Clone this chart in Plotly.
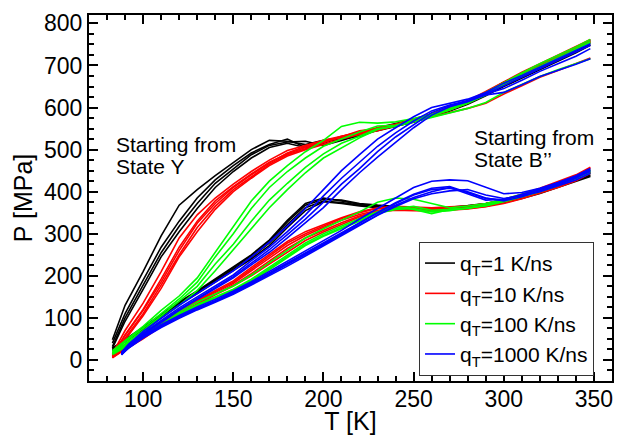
import plotly.graph_objects as go

# Temperature grids [K]
T_GRID = [83, 90, 100, 110, 120, 130, 140, 150, 160, 170, 180, 190, 200, 210,
          220, 230, 240, 250, 260, 270, 280, 290, 300, 310, 320, 330, 340, 348]
T_GRID_FAST = [88, 92, 100, 110, 120, 130, 140, 150, 160, 170, 180, 190, 200, 210,
               220, 230, 240, 250, 260, 270, 280, 290, 300, 310, 320, 330, 340, 348]

# ---- Starting from State Y (upper curves), P [MPa] ----
BLACK_Y = [
    [48, 130, 210, 295, 368, 405, 438, 468, 500, 522, 520, 512, 522, 528, 538, 550, 560, 568, 580, 596, 612, 632, 655, 676, 698, 718, 738, 754],
    [40, 110, 190, 268, 330, 385, 428, 462, 492, 512, 525, 505, 515, 530, 540, 545, 555, 566, 578, 592, 608, 628, 652, 672, 694, 714, 734, 750],
    [32, 100, 178, 255, 318, 372, 420, 455, 488, 510, 518, 520, 510, 522, 535, 552, 562, 572, 585, 600, 615, 636, 660, 680, 700, 722, 742, 760],
    [28, 92, 168, 245, 305, 360, 410, 448, 480, 505, 515, 505, 520, 525, 532, 546, 556, 565, 579, 593, 610, 630, 650, 670, 690, 710, 730, 748],
]
RED_Y = [
    [15, 70, 135, 210, 290, 345, 385, 418, 448, 475, 498, 510, 522, 532, 542, 552, 560, 572, 585, 600, 616, 638, 662, 684, 704, 724, 745, 762],
    [10, 60, 120, 192, 268, 330, 378, 412, 442, 470, 490, 505, 520, 528, 538, 548, 557, 568, 580, 594, 610, 632, 656, 676, 696, 718, 738, 756],
    [8, 52, 110, 178, 250, 315, 365, 405, 435, 465, 488, 502, 516, 530, 545, 550, 560, 570, 578, 588, 598, 610, 632, 652, 672, 688, 704, 718],
    [5, 48, 105, 170, 245, 305, 358, 400, 432, 462, 485, 500, 512, 525, 536, 545, 556, 567, 582, 598, 614, 636, 660, 680, 702, 722, 742, 758],
    [12, 58, 118, 185, 260, 325, 372, 410, 440, 468, 492, 508, 518, 532, 540, 549, 559, 571, 584, 597, 612, 634, 658, 678, 699, 720, 740, 757],
]
GREEN_Y = [
    [22, 45, 80, 118, 152, 195, 255, 318, 378, 425, 462, 495, 522, 555, 565, 563, 566, 574, 584, 598, 614, 636, 660, 682, 704, 724, 744, 762],
    [20, 42, 75, 110, 145, 185, 245, 300, 360, 410, 448, 480, 508, 525, 542, 556, 558, 570, 582, 595, 610, 630, 655, 675, 695, 716, 737, 754],
    [18, 38, 70, 105, 138, 175, 228, 275, 330, 380, 420, 458, 490, 515, 532, 550, 555, 566, 576, 588, 598, 612, 636, 655, 674, 690, 705, 716],
    [16, 35, 65, 100, 130, 165, 212, 262, 312, 362, 405, 445, 480, 505, 528, 548, 557, 569, 580, 594, 611, 633, 658, 678, 698, 718, 739, 757],
]
BLUE_Y = [
    [18, 38, 68, 100, 130, 158, 185, 212, 245, 280, 318, 360, 405, 450, 488, 525, 552, 578, 600, 610, 620, 636, 658, 676, 696, 716, 736, 752],
    [15, 34, 64, 94, 124, 150, 176, 202, 236, 268, 305, 345, 390, 432, 470, 508, 540, 568, 592, 606, 617, 633, 652, 672, 692, 712, 732, 748],
    [13, 32, 62, 92, 120, 146, 172, 198, 230, 262, 298, 335, 375, 418, 455, 495, 530, 560, 588, 604, 615, 632, 645, 665, 686, 704, 722, 740],
    [12, 30, 60, 90, 118, 144, 170, 195, 226, 256, 290, 325, 362, 405, 445, 482, 518, 552, 582, 602, 614, 630, 636, 654, 674, 688, 703, 716],
]

# ---- Starting from State B'' (lower curves), P [MPa] ----
BLACK_B = [
    [28, 48, 78, 108, 138, 164, 192, 220, 250, 285, 332, 372, 385, 378, 370, 366, 363, 361, 360, 362, 366, 371, 378, 388, 400, 414, 428, 440],
    [24, 44, 74, 104, 134, 160, 188, 214, 244, 278, 322, 362, 378, 374, 368, 364, 360, 358, 358, 360, 364, 368, 376, 386, 398, 412, 428, 438],
    [22, 42, 72, 102, 132, 158, 185, 212, 240, 272, 315, 355, 376, 372, 366, 362, 358, 357, 356, 358, 362, 366, 374, 384, 396, 410, 425, 436],
    [26, 46, 76, 106, 136, 162, 190, 218, 248, 282, 328, 368, 382, 380, 372, 368, 365, 362, 361, 363, 367, 372, 380, 390, 402, 417, 432, 445],
]
RED_B = [
    [10, 30, 58, 88, 116, 142, 165, 188, 220, 252, 282, 305, 322, 338, 352, 362, 365, 364, 362, 364, 366, 372, 382, 394, 408, 424, 440, 458],
    [8, 28, 55, 85, 112, 138, 160, 182, 212, 242, 272, 296, 315, 332, 346, 356, 360, 360, 358, 360, 362, 368, 378, 390, 403, 418, 435, 452],
    [6, 26, 52, 82, 108, 134, 156, 178, 205, 235, 265, 290, 308, 326, 342, 354, 358, 356, 355, 357, 360, 365, 375, 386, 399, 414, 430, 447],
    [5, 25, 50, 80, 106, 132, 155, 176, 200, 228, 258, 284, 304, 322, 340, 352, 356, 355, 354, 356, 359, 364, 372, 383, 396, 410, 426, 444],
    [9, 29, 56, 86, 114, 140, 162, 185, 216, 248, 278, 300, 318, 336, 350, 360, 364, 362, 360, 363, 365, 370, 380, 392, 406, 420, 438, 456],
]
GREEN_B = [
    [17, 35, 62, 90, 115, 138, 157, 176, 202, 232, 262, 290, 312, 332, 352, 375, 385, 382, 372, 362, 366, 372, 382, 394, 406, 420, 436, 452],
    [15, 32, 58, 85, 110, 132, 150, 168, 192, 220, 250, 278, 300, 318, 336, 352, 365, 358, 348, 358, 360, 368, 378, 390, 402, 416, 432, 448],
    [13, 30, 55, 82, 106, 128, 146, 164, 186, 214, 244, 272, 294, 312, 330, 348, 358, 360, 352, 355, 362, 366, 376, 388, 400, 414, 430, 445],
    [14, 31, 56, 83, 108, 130, 148, 166, 189, 217, 246, 274, 296, 315, 333, 350, 360, 365, 356, 358, 361, 369, 379, 391, 404, 418, 434, 450],
]
BLUE_B = [
    [17, 33, 58, 84, 106, 126, 144, 164, 186, 210, 234, 258, 282, 308, 335, 360, 385, 410, 425, 428, 426, 410, 395, 398, 408, 422, 438, 455],
    [15, 30, 55, 80, 102, 122, 140, 160, 182, 205, 228, 252, 276, 300, 326, 350, 372, 392, 405, 408, 400, 385, 378, 388, 402, 416, 432, 450],
    [14, 29, 54, 79, 101, 121, 139, 158, 180, 203, 226, 250, 274, 298, 322, 346, 368, 386, 400, 410, 395, 380, 382, 392, 405, 420, 436, 452],
    [13, 28, 52, 77, 99, 119, 137, 156, 178, 200, 223, 247, 271, 295, 320, 344, 365, 383, 395, 402, 405, 392, 384, 390, 400, 414, 428, 444],
    [16, 31, 56, 81, 103, 123, 141, 161, 183, 207, 230, 254, 278, 302, 328, 352, 374, 394, 408, 412, 398, 384, 380, 394, 406, 418, 434, 448],
]

SERIES = [
    ("q<sub>T</sub>=1 K/ns", "#000000", T_GRID, BLACK_Y + BLACK_B),
    ("q<sub>T</sub>=10 K/ns", "#ff0000", T_GRID, RED_Y + RED_B),
    ("q<sub>T</sub>=100 K/ns", "#00ff00", T_GRID, GREEN_Y + GREEN_B),
    ("q<sub>T</sub>=1000 K/ns", "#0000ff", T_GRID_FAST, BLUE_Y + BLUE_B),
]

FONT = "Liberation Sans, Arial, sans-serif"

fig = go.Figure()
for name, color, tgrid, runs in SERIES:
    xs, ys = [], []
    for run in runs:
        xs += list(tgrid) + [None]
        ys += list(run) + [None]
    fig.add_trace(go.Scatter(x=xs, y=ys, mode="lines", name=name,
                             line=dict(color=color, width=1.6),
                             connectgaps=False))

axis_common = dict(
    showline=True, linewidth=2, linecolor="black", mirror="allticks",
    ticks="inside", ticklen=9, tickwidth=1.5, tickcolor="black",
    showgrid=False, zeroline=False,
    tickfont=dict(family=FONT, size=23, color="black"),
)

fig.update_xaxes(range=[70, 360], dtick=50, tick0=0,
                 minor=dict(dtick=10, ticks="inside", ticklen=5, tickwidth=1.5, tickcolor="black"),
                 title=dict(text="T [K]", font=dict(family=FONT, size=25, color="black"), standoff=3),
                 ticklabelstandoff=-4,
                 **axis_common)
fig.update_yaxes(range=[-50, 820], dtick=100, tick0=0,
                 minor=dict(dtick=25, ticks="inside", ticklen=5, tickwidth=1.5, tickcolor="black"),
                 title=dict(text="P [MPa]", font=dict(family=FONT, size=25, color="black"), standoff=4),
                 **axis_common)

ANNOT_LINES = [
    ("Starting from", 84.0, 545),
    ("State Y", 84.0, 493),
    ("Starting from", 282.5, 560),
    ("State B’’", 282.5, 508),
]
for txt, ax, ay in ANNOT_LINES:
    fig.add_annotation(x=ax, y=ay, xref="x", yref="y", xanchor="left", yanchor="top",
                       text=txt, showarrow=False, align="left",
                       font=dict(family=FONT, size=21, color="black"))

fig.update_layout(
    width=619, height=435,
    margin=dict(l=89, r=7, t=15, b=54, autoexpand=False),
    paper_bgcolor="white", plot_bgcolor="white",
    showlegend=True,
    legend=dict(x=0.631, y=0.38, xanchor="left", yanchor="top",
                bgcolor="white", bordercolor="#333333", borderwidth=1,
                font=dict(family=FONT, size=21, color="black"),
                itemwidth=30, tracegroupgap=0),
)

fig.write_html("out.html", config={"displayModeBar": False},
               post_script="document.body.style.margin='0';")
